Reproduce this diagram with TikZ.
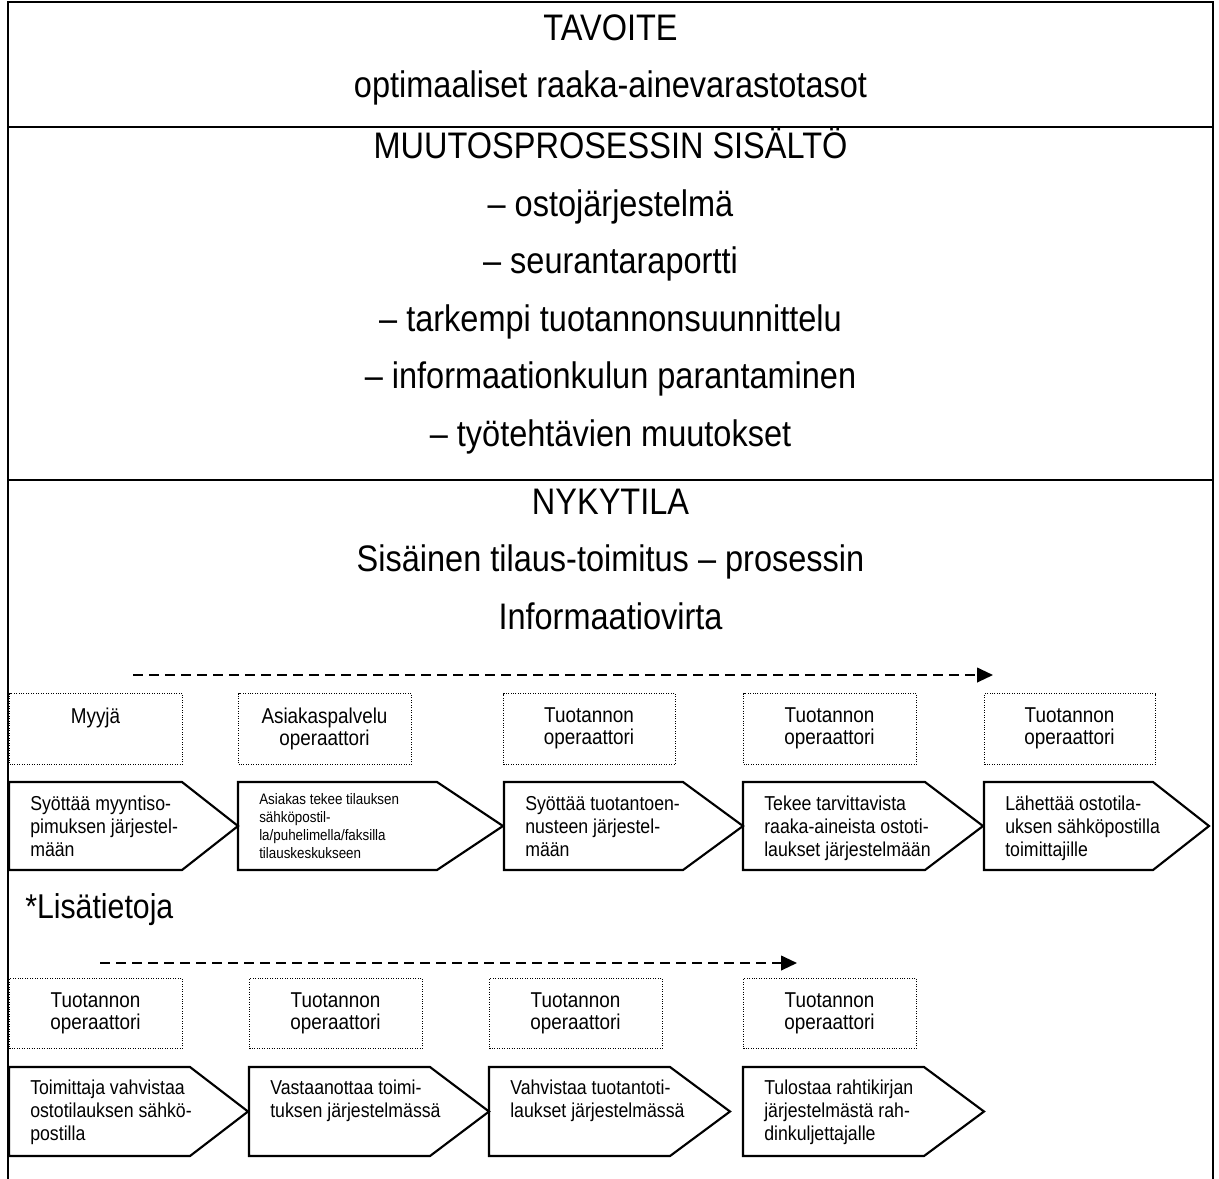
\documentclass[tikz,border=0pt]{standalone}
\usepackage{fontspec}
\setmainfont{Liberation Sans}[FakeStretch=0.88]
\usetikzlibrary{arrows.meta}

\tikzset{
  frameline/.style={line width=2.1pt},
  pentline/.style={line width=1.6pt, line join=miter},
  roleframe/.style={draw, line width=0.75pt, dash pattern=on 0.75pt off 1.1pt,
    inner sep=0pt, anchor=north west},
  headtext/.style={font=\fontsize{27.7}{33}\selectfont, inner sep=0pt, anchor=base},
  roletext/.style={font=\fontsize{16.1}{16.5}\selectfont, inner sep=0pt, align=center,
    anchor=north, execute at begin node=\strut},
  steptext/.style={font=\fontsize{15.1}{17.25}\selectfont, inner sep=0pt, align=left,
    execute at begin node=\strut},
  smallsteptext/.style={font=\fontsize{11.4}{13.3}\selectfont, inner sep=0pt, align=left,
    execute at begin node=\strut},
  flowarrow/.style={line width=1.5pt, dash pattern=on 7.5pt off 4.5pt,
    -{Triangle[length=12pt,width=11pt]}},
}

% pentagon step: name, left, shoulder, tip, top, bottom, text style, text offset, text
\newcommand{\flowstep}[9]{%
  \draw[pentline] (#2,#5) -- (#3,#5) -- (#4,{(#5+#6)/2}) -- (#3,#6) -- (#2,#6) -- cycle;
  \begin{scope}
    \clip (#2,#5) rectangle (#4,#6-10);
    \node[#7, anchor=north west] (#1) at (#2+21,#5+#8) {#9};
  \end{scope}
}

% dotted role box: name, left, right, top, bottom, text
\newcommand{\rolebox}[6]{%
  \node[roleframe, minimum width={(#3-#2)*0.75pt}, minimum height={(#5-#4)*0.75pt}]
    (#1) at (#2,#4) {};
  \node[roletext] (#1-label) at ({(#2+#3)/2},#4+14.6) {#6};
}

\begin{document}
\begin{tikzpicture}[x=0.75pt,y=-0.75pt]
  \useasboundingbox (0,0) rectangle (1219,1178);

  % outer frame and section rules
  \draw[frameline] (8,1182) -- (8,2) -- (1213,2) -- (1213,1182);
  \draw[frameline] (8,127) -- (1213,127);
  \draw[frameline] (8,480) -- (1213,480);

  % goal
  \node[headtext] (goal) at (610.5,40) {TAVOITE};
  \node[headtext] (goal-text) at (610.5,97.5) {optimaaliset raaka-ainevarastotasot};

  % content of the change process
  \node[headtext] (change) at (610.5,158) {MUUTOSPROSESSIN SISÄLTÖ};
  \node[headtext] (change-1) at (610.5,216) {– ostojärjestelmä};
  \node[headtext] (change-2) at (610.5,273.5) {– seurantaraportti};
  \node[headtext] (change-3) at (610.5,331) {– tarkempi tuotannonsuunnittelu};
  \node[headtext] (change-4) at (610.5,388.5) {– informaationkulun parantaminen};
  \node[headtext] (change-5) at (610.5,446) {– työtehtävien muutokset};

  % current state
  \node[headtext] (now) at (610.5,514) {NYKYTILA};
  \node[headtext] (now-process) at (610.5,571.5) {Sisäinen tilaus-toimitus – prosessin};
  \node[headtext] (now-flow) at (610.5,629) {Informaatiovirta};

  % first flow
  \coordinate (flowA-start) at (133,675);
  \coordinate (flowA-end) at (993,675);
  \draw[flowarrow] (flowA-start) -- (flowA-end);

  \rolebox{roleA1}{9}{182}{693}{764}{Myyjä}
  \rolebox{roleA2}{238}{411}{693}{764}{Asiakaspalvelu\\operaattori}
  \rolebox{roleA3}{503}{675}{693}{764}{Tuotannon\\operaattori}
  \rolebox{roleA4}{743}{916}{693}{764}{Tuotannon\\operaattori}
  \rolebox{roleA5}{984}{1155}{693}{764}{Tuotannon\\operaattori}

  \flowstep{stepA1}{9}{182}{238}{782}{870}{steptext}{14}
    {Syöttää myyntiso-\\pimuksen järjestel-\\mään}
  \flowstep{stepA2}{238}{437}{503}{782}{870}{smallsteptext}{11.6}
    {Asiakas tekee tilauksen\\sähköpostil-\\la/puhelimella/faksilla\\tilauskeskukseen}
  \flowstep{stepA3}{504}{683}{743}{782}{870}{steptext}{14}
    {Syöttää tuotantoen-\\nusteen järjestel-\\mään}
  \flowstep{stepA4}{743}{925}{983}{782}{870}{steptext}{14}
    {Tekee tarvittavista\\raaka-aineista ostoti-\\laukset järjestelmään}
  \flowstep{stepA5}{984}{1153}{1209}{782}{870}{steptext}{14}
    {Lähettää ostotila-\\uksen sähköpostilla\\toimittajille}

  % additional information
  \node[font=\fontsize{25.8}{30}\selectfont, inner sep=0pt, anchor=base west]
    (extra) at (25,918) {*Lisätietoja};

  % second flow
  \coordinate (flowB-start) at (100,963);
  \coordinate (flowB-end) at (797,963);
  \draw[flowarrow] (flowB-start) -- (flowB-end);

  \rolebox{roleB1}{9}{182}{978}{1048}{Tuotannon\\operaattori}
  \rolebox{roleB2}{249}{422}{978}{1048}{Tuotannon\\operaattori}
  \rolebox{roleB3}{489}{662}{978}{1048}{Tuotannon\\operaattori}
  \rolebox{roleB4}{743}{916}{978}{1048}{Tuotannon\\operaattori}

  \flowstep{stepB1}{9}{190}{248}{1067}{1156}{steptext}{13}
    {Toimittaja vahvistaa\\ostotilauksen sähkö-\\postilla}
  \flowstep{stepB2}{249}{430}{489}{1067}{1156}{steptext}{13}
    {Vastaanottaa toimi-\\tuksen järjestelmässä}
  \flowstep{stepB3}{489}{670}{730}{1067}{1156}{steptext}{13}
    {Vahvistaa tuotantoti-\\laukset järjestelmässä}
  \flowstep{stepB4}{743}{924}{984}{1067}{1156}{steptext}{13}
    {Tulostaa rahtikirjan\\järjestelmästä rah-\\dinkuljettajalle}
\end{tikzpicture}
\end{document}
